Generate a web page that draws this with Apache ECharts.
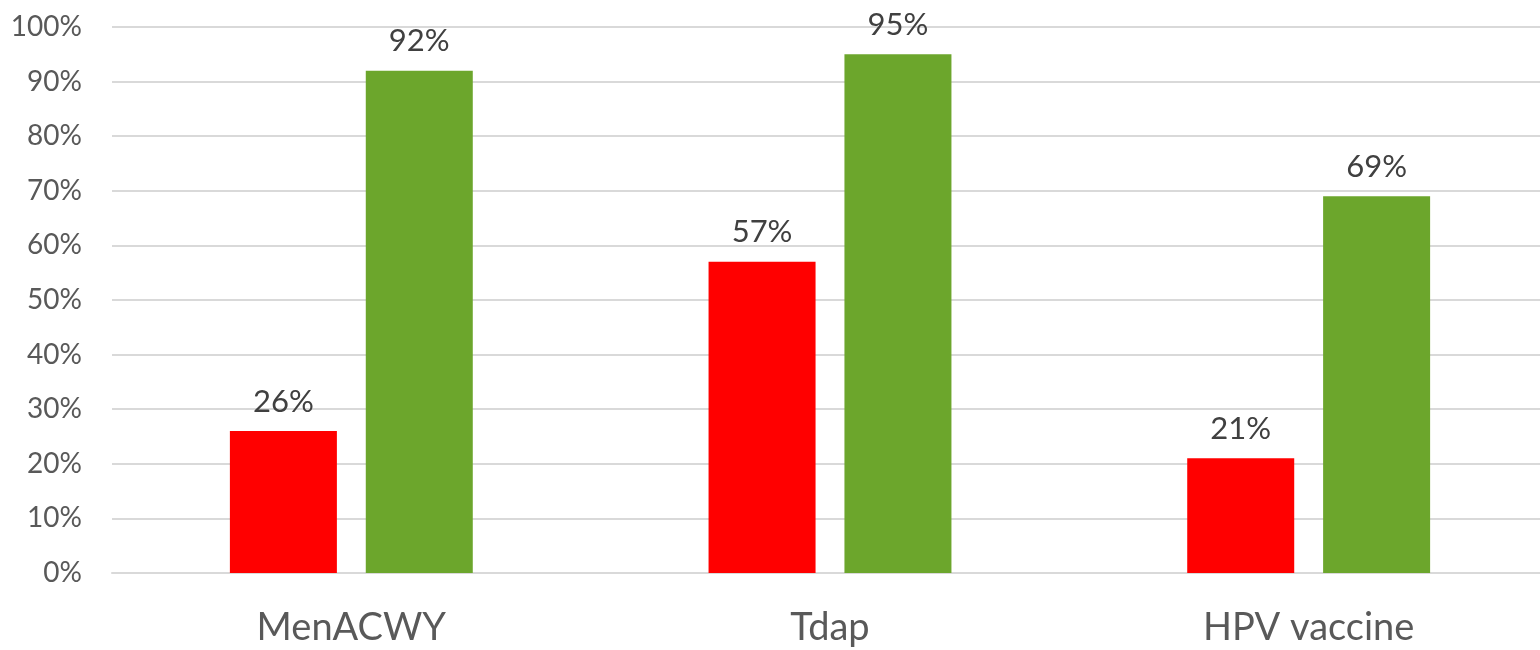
<!DOCTYPE html>
<html>
<head>
<meta charset="utf-8">
<script src="https://cdn.jsdelivr.net/npm/echarts@6/dist/echarts.min.js"></script>
<style>
  html, body { margin: 0; padding: 0; background: #ffffff; overflow: hidden; }
  #chart { width: 1548px; height: 650px; }
</style>
</head>
<body>
<div id="chart"></div>
<script>
// Vaccine categories and the two coverage series (percent)
const categories = ['MenACWY', 'Tdap', 'HPV vaccine'];
const seriesRed = [26, 57, 21];
const seriesGreen = [92, 95, 69];
const yTicks = [0, 10, 20, 30, 40, 50, 60, 70, 80, 90, 100];

const FONT = 'Lato, "Open Sans", sans-serif';

const chart = echarts.init(document.getElementById('chart'), null, { renderer: 'canvas' });

function barSeries(values, color) {
  return {
    type: 'bar',
    data: values,
    barWidth: 107,
    barGap: '27%',
    itemStyle: { color: color },
    label: {
      show: true,
      position: 'top',
      distance: 14,
      formatter: p => p.value + '%',
      color: '#404040',
      fontSize: 31,
      fontFamily: FONT
    }
  };
}

chart.setOption({
  animation: false,
  grid: { left: 112, right: 0, top: 27, bottom: 77, containLabel: false },
  xAxis: {
    type: 'category',
    data: categories,
    axisLine: { show: true, lineStyle: { color: '#d9d9d9', width: 2 } },
    axisTick: { show: false },
    axisLabel: {
      color: '#595959',
      fontSize: 38,
      fontFamily: FONT,
      margin: 36
    }
  },
  yAxis: {
    type: 'value',
    min: yTicks[0],
    max: yTicks[yTicks.length - 1],
    interval: 10,
    axisLine: { show: false },
    axisTick: { show: false },
    splitLine: { lineStyle: { color: '#d9d9d9', width: 2 } },
    axisLabel: {
      color: '#595959',
      fontSize: 28,
      fontFamily: FONT,
      margin: 30,
      formatter: v => v + '%'
    }
  },
  series: [barSeries(seriesRed, '#ff0000'), barSeries(seriesGreen, '#6ca62c')]
});
</script>
</body>
</html>
